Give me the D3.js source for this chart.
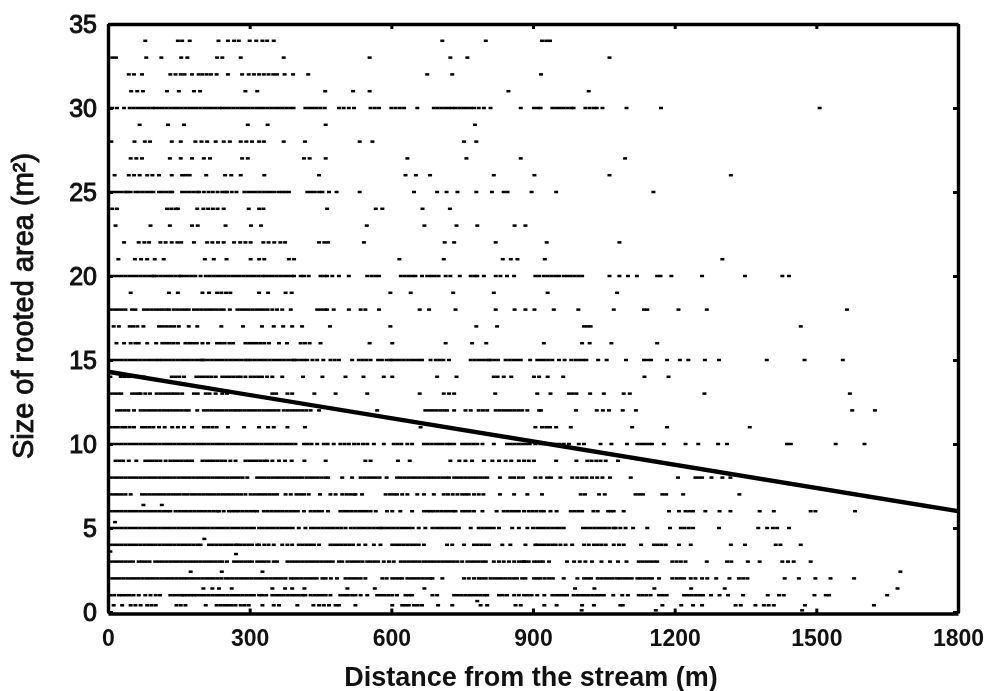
<!DOCTYPE html>
<html>
<head>
<meta charset="utf-8">
<script src="https://d3js.org/d3.v7.min.js"></script>
<style>
  html, body { margin: 0; background: #fff; }
  svg { display: block; filter: blur(0.35px); }
  text { font-family: "Liberation Sans", Arial, sans-serif; fill: #111; }
</style>
</head>
<body>
<svg id="chart" width="985" height="691"></svg>
<script>
// tick labels
var xTicks = [0, 300, 600, 900, 1200, 1500, 1800];
var yTicks = [0, 5, 10, 15, 20, 25, 30, 35];

// fitted line, distance -> rooted area
var lineX = [0, 1800];
var lineY = [14.3, 6.0];

// points, one list per rooted area value (x = metres)
var r34 = [79,148,157,173,234,254,267,277,300,314,327,337,351,708,800,919,928,936];
var r33 = [9,17,81,113,155,168,231,242,281,372,554,725,761,1062];
var r32 = [44,55,72,132,143,154,162,178,192,200,209,218,230,254,284,298,309,320,330,340,350,358,374,392,424,676,729,917];
var r31 = [49,62,74,125,150,182,195,291,316,460,519,554,848,1018];
var r30 = [9,19,34,46,54,62,70,78,86,94,100,108,116,124,132,140,148,156,164,172,180,188,196,204,212,220,228,236,242,250,258,266,274,282,290,298,306,314,322,330,338,346,354,362,370,378,386,393,418,426,434,442,450,459,489,499,510,521,556,565,574,600,609,618,627,655,690,698,706,714,722,729,736,744,752,760,768,775,785,796,810,874,902,910,916,941,949,957,965,973,981,986,1011,1020,1029,1035,1047,1098,1171,1507];
var r29 = [67,127,161,296,338,461,777];
var r28 = [7,56,78,89,135,154,185,198,210,228,245,258,281,293,305,320,330,372,417,533,560,754,780];
var r27 = [48,60,72,131,154,178,203,216,284,296,415,427,461,634,759,874,1095];
var r26 = [14,44,55,67,83,94,108,135,157,165,173,208,248,261,281,331,447,630,652,682,817,903,1062,1319];
var r25 = [5,13,21,29,37,41,48,58,65,73,81,89,96,108,116,124,132,136,157,165,173,181,189,193,203,213,222,232,242,249,252,262,272,289,297,305,313,321,329,337,345,353,362,369,376,383,422,430,438,447,454,468,484,533,648,697,717,740,780,813,838,846,897,949,1155];
var r24 = [9,19,125,134,143,148,189,202,212,222,232,245,298,320,329,464,567,581,666,724];
var r23 = [16,90,131,178,190,249,303,324,548,670,738,782,861,884];
var r22 = [34,65,77,87,111,122,135,147,155,182,210,221,233,245,267,280,291,302,329,340,352,365,375,447,458,466,542,713,733,821,929,1083];
var r21 = [22,57,70,83,99,118,205,224,251,302,320,331,383,394,617,711,836,853,867,925,1301];
var r20 = [5,13,21,29,37,45,53,61,69,77,85,93,97,103,111,119,127,135,143,151,154,161,169,177,185,196,207,215,223,231,239,247,255,263,271,279,287,295,303,311,319,327,333,341,349,357,365,373,381,389,394,408,415,425,450,458,464,475,489,510,549,558,566,574,620,628,636,644,651,665,676,684,692,700,715,725,745,768,776,782,796,821,831,845,860,905,913,923,931,939,947,955,965,972,980,988,996,1004,1062,1083,1101,1120,1163,1170,1193,1258,1349,1428,1442];
var r19 = [48,129,148,200,214,231,240,250,259,320,339,376,389,598,641,731,817,931,1078];
var r18 = [5,13,21,29,37,51,58,76,84,92,100,108,116,124,129,139,147,155,163,171,182,190,198,206,214,222,230,238,245,258,274,282,290,298,306,314,322,330,338,348,358,369,387,443,451,459,464,478,510,535,545,574,660,680,736,821,861,884,903,944,996,1071,1135,1142,1208,1268,1565];
var r17 = [12,23,46,53,62,75,108,116,124,132,140,150,171,189,240,286,326,351,371,390,411,470,598,780,824,1008,1015,1022,1467];
var r16 = [18,34,48,58,65,83,102,115,123,131,139,148,164,172,180,188,200,212,231,239,247,257,265,291,299,307,315,323,331,341,362,379,408,417,427,450,554,602,715,771,801,923,1004,1020,1066,1163];
var r15 = [5,13,21,29,37,45,53,61,69,77,85,93,101,108,115,123,131,139,147,155,163,171,179,187,195,200,203,211,219,227,235,243,251,259,267,275,283,291,296,302,310,318,326,334,342,350,358,366,374,382,390,394,399,407,415,422,433,443,456,471,480,489,517,531,539,547,556,572,580,590,598,602,610,618,626,634,642,650,658,665,683,694,702,710,722,768,776,784,792,800,807,810,818,826,842,850,858,866,874,894,909,917,925,933,941,955,967,981,990,998,1006,1013,1038,1056,1097,1135,1143,1150,1184,1211,1229,1264,1294,1395,1475,1556];
var r14 = [5,27,35,43,51,59,67,76,135,143,151,161,187,195,203,211,219,228,242,250,258,266,274,281,291,302,310,318,326,337,348,369,413,454,503,541,584,602,697,738,817,825,838,854,902,913,931,964,1136,1187];
var r13 = [5,13,21,28,51,58,65,69,79,89,103,111,119,127,135,140,148,157,182,190,207,215,228,242,252,348,356,380,390,437,482,549,660,711,722,733,820,909,937,976,984,992,1021,1050,1092,1105,1263,1571];
var r12 = [19,27,35,43,55,69,77,85,93,101,109,117,125,132,140,148,156,164,171,189,203,211,219,227,235,243,251,259,267,274,281,289,297,305,313,321,329,337,345,353,361,372,380,388,396,404,412,420,429,447,500,570,672,680,688,696,704,712,718,733,757,768,785,794,803,821,829,837,845,853,861,869,877,888,913,917,991,1035,1048,1061,1090,1118,1576,1624];
var r11 = [5,13,21,30,37,46,55,72,80,88,96,108,120,136,148,161,178,203,212,221,230,254,288,320,339,351,380,417,662,905,919,928,936,949,980,1110,1184,1359];
var r10 = [5,13,21,29,37,45,53,61,69,77,85,93,101,109,117,125,133,141,149,157,165,173,181,189,197,205,213,221,229,237,245,253,261,269,277,285,293,301,309,317,325,333,341,349,357,365,373,381,389,397,415,423,431,443,457,465,478,492,501,510,521,530,540,549,563,584,605,613,621,634,644,669,677,685,693,701,709,718,725,733,750,758,766,774,782,793,817,845,853,861,869,877,885,893,905,916,924,932,940,948,956,965,976,997,1008,1043,1066,1099,1121,1129,1137,1145,1152,1177,1223,1250,1292,1311,1438,1446,1541,1602];
var r9 = [16,24,32,44,60,79,87,95,103,111,122,132,140,148,156,164,171,178,200,208,216,224,232,240,248,259,270,291,299,307,315,323,331,337,348,362,375,389,416,461,545,556,614,639,725,744,757,771,796,814,828,842,854,870,881,891,902,949,992,1015,1024,1034,1043,1054,1080];
var r8 = [5,13,21,29,37,45,53,61,69,77,85,93,101,109,117,125,133,141,149,157,165,173,181,189,197,205,213,221,229,237,245,253,261,269,277,285,295,316,324,332,340,348,356,364,372,380,388,396,404,411,420,428,436,444,452,460,466,496,517,535,543,551,559,567,575,590,612,620,628,636,644,652,660,668,676,684,692,700,708,716,722,733,741,749,757,765,773,781,789,797,803,830,852,860,870,879,905,916,930,938,958,983,994,1004,1013,1025,1036,1047,1063,1107,1207,1244,1251,1258,1278,1301,1318];
var r7 = [5,13,21,29,37,48,72,80,88,96,104,112,120,128,136,144,152,161,169,178,186,194,202,210,218,226,234,242,250,258,266,274,282,291,302,310,318,326,334,342,350,358,376,387,399,407,415,425,449,471,482,496,505,513,521,524,538,588,597,605,612,623,634,655,669,690,711,720,730,740,750,757,764,775,785,795,830,860,888,919,1001,1010,1040,1052,1117,1125,1133,1174,1182,1218,1337];
var r6 = [5,13,21,29,37,45,53,61,69,77,85,93,101,109,117,125,132,143,151,159,167,175,183,191,199,207,215,223,231,235,245,256,263,270,277,285,293,301,309,316,330,338,346,354,362,370,378,386,394,402,415,429,437,445,453,466,492,500,508,516,524,532,540,548,556,567,591,602,619,644,669,677,683,690,698,706,714,722,730,736,750,758,766,775,793,823,838,846,854,862,870,881,891,899,907,916,923,937,950,980,988,996,1004,1028,1037,1059,1065,1071,1092,1188,1209,1223,1231,1239,1265,1295,1318,1380,1410,1488,1498,1582];
var r5 = [5,13,21,29,37,45,53,61,69,77,85,93,101,109,117,125,133,141,149,157,165,173,181,189,197,205,213,221,229,237,245,253,261,269,277,285,293,301,309,320,327,335,343,351,359,367,375,383,391,404,418,430,438,446,454,462,470,478,486,494,503,514,522,530,538,546,554,562,570,577,581,589,597,605,613,621,629,637,645,658,672,687,695,703,711,719,727,735,743,768,785,793,801,809,817,828,856,870,888,900,909,917,925,933,941,949,957,965,1006,1014,1022,1030,1038,1046,1054,1062,1071,1075,1085,1096,1112,1142,1190,1213,1221,1230,1239,1294,1377,1396,1408,1417,1442];
var r4 = [5,13,21,29,37,45,53,61,69,77,85,93,101,109,117,125,133,141,149,157,165,173,181,189,196,214,222,230,238,246,254,262,270,274,281,289,297,305,316,320,331,340,351,369,380,390,404,412,420,428,436,447,471,479,487,495,503,511,519,531,545,563,577,602,610,618,626,634,642,650,658,669,718,729,754,775,783,791,799,807,835,852,884,905,909,917,925,933,941,948,958,969,983,1008,1018,1029,1037,1045,1054,1071,1082,1092,1129,1156,1164,1172,1181,1209,1234,1319,1349,1414,1424,1467];
var r3 = [5,13,21,29,37,45,53,65,72,80,88,100,108,116,124,132,140,148,156,164,172,180,188,196,204,212,220,228,236,242,252,267,275,283,291,299,305,316,324,332,340,351,358,380,388,396,404,412,420,428,436,444,452,460,468,476,489,496,507,515,523,531,539,549,556,564,572,584,595,605,620,628,636,644,652,660,669,676,684,692,700,708,716,724,732,740,750,761,769,777,785,793,800,817,828,838,849,860,870,881,884,902,916,877,891,909,921,934,972,987,999,1011,1025,1045,1063,1080,1098,1124,1132,1140,1148,1156,1163,1195,1204,1213,1223,1268,1311,1320,1355,1380,1428,1440,1452,1488];
var r2 = [9,17,25,33,41,49,57,65,73,81,89,97,105,113,121,129,137,145,153,161,168,176,184,192,200,208,216,224,232,240,249,256,264,272,280,288,296,304,312,320,328,336,344,352,360,368,376,387,394,402,410,418,426,434,442,454,461,472,485,503,511,519,527,535,545,581,590,602,609,616,623,634,642,650,658,666,674,682,687,708,754,764,775,785,792,800,810,818,826,834,842,850,858,866,877,884,902,909,916,942,934,925,965,994,1008,1016,1023,1037,1045,1053,1061,1069,1078,1085,1093,1101,1109,1121,1128,1136,1144,1152,1167,1195,1204,1212,1220,1234,1244,1258,1269,1288,1316,1336,1345,1354,1433,1463,1498,1530,1580];
var r1 = [5,13,23,30,38,46,54,65,79,90,101,110,132,140,148,156,161,168,175,182,189,197,205,213,221,229,237,245,253,261,269,277,285,293,301,309,320,327,335,348,356,364,372,380,388,396,404,412,418,429,437,445,453,461,471,492,500,508,517,524,535,549,570,578,586,594,602,612,630,637,644,687,697,733,741,749,757,765,773,781,789,797,803,828,836,845,860,870,881,889,897,909,924,941,949,957,965,972,986,994,1002,1010,1018,1026,1034,1042,1050,1070,1089,1101,1124,1132,1140,1149,1167,1175,1183,1220,1228,1236,1244,1252,1260,1277,1295,1313,1345,1397,1421,1431,1496,1520,1527,1650];
// stray points between the whole-number rows
var rHalf = [12,30,48,58,69,83,92,101,145,154,164,207,230,238,246,254,262,270,281,289,298,327,351,362,401,435,447,457,468,482,489,524,602,623,630,637,648,656,665,699,729,789,803,863,874,924,950,1004,1029,1085,1090,1174,1214,1239,1258,1329,1340,1371,1389,1399,1410,1476,1622];
var r14low = [202,221,235,262,348,375,390,416,507,565,670,989,1030,1157,1235,1306,1672];
var r24low = [175,241,327,1678];
var r36low = [271];
var r39low = [5];
var r44low = [204];
var r54low = [15];
var r64low = [75,114];
var r07low = [782];
var r0 = [1003,1160,1470];

var rows = [
  [34, r34], [33, r33], [32, r32], [31, r31], [30, r30], [29, r29], [28, r28], [27, r27], [26, r26],
  [25, r25], [24, r24], [23, r23], [22, r22], [21, r21], [20, r20], [19, r19], [18, r18], [17, r17],
  [16, r16], [15, r15], [14, r14], [13, r13], [12, r12], [11, r11], [10, r10], [9, r9], [8, r8],
  [7, r7], [6, r6], [5, r5], [4, r4], [3, r3], [2, r2], [1, r1], [0.4, rHalf], [1.4, r14low],
  [2.4, r24low], [3.45, r36low], [3.6, r39low], [4.35, r44low], [5.35, r54low], [6.37, r64low],
  [0.65, r07low], [0.1, r0]
];

var points = [];
rows.forEach(function(row) {
  row[1].forEach(function(x) { points.push({x: x, y: row[0]}); });
});

var svg = d3.select("#chart");
var margin = {left: 108, right: 958, top: 24, bottom: 612};

var x = d3.scaleLinear().domain([0, 1800]).range([margin.left, margin.right]);
var y = d3.scaleLinear().domain([0, 35]).range([margin.bottom, margin.top]);

// points
var dotW = 4, dotH = 2.5;
svg.append("g")
  .selectAll("rect")
  .data(points)
  .enter().append("rect")
    .attr("x", d => x(d.x) - dotW / 2)
    .attr("y", d => y(d.y) - dotH / 2)
    .attr("width", dotW)
    .attr("height", dotH)
    .attr("fill", "#000");

// fitted line
svg.append("path")
  .datum(d3.zip(lineX, lineY))
  .attr("fill", "none")
  .attr("stroke", "#000")
  .attr("stroke-width", 4.4)
  .attr("d", d3.line().x(d => x(d[0])).y(d => y(d[1])));

// axes, ticks point inwards on all four sides
function styleAxis(g) {
  g.select(".domain").attr("stroke", "#000").attr("stroke-width", 3.4);
  g.selectAll(".tick line").attr("stroke", "#000").attr("stroke-width", 3);
  g.selectAll("text").attr("font-family", null).attr("fill", "#111");
}

svg.append("g")
  .attr("transform", `translate(0,${margin.bottom + 1.5})`)
  .call(d3.axisBottom(x).tickValues(xTicks).tickSizeInner(-5).tickSizeOuter(0).tickPadding(16).tickFormat(d3.format("d")))
  .call(styleAxis)
  .selectAll("text").attr("font-size", 23).attr("font-weight", "bold");

svg.append("g")
  .attr("transform", `translate(0,${margin.top})`)
  .call(d3.axisTop(x).tickValues(xTicks).tickSizeInner(-5).tickSizeOuter(0).tickFormat(""))
  .call(styleAxis);

svg.append("g")
  .attr("transform", `translate(${margin.left},0)`)
  .call(d3.axisLeft(y).tickValues(yTicks).tickSizeInner(-5).tickSizeOuter(0).tickPadding(11))
  .call(styleAxis)
  .selectAll("text").attr("font-size", 25).attr("stroke", "#111").attr("stroke-width", 1);

svg.append("g")
  .attr("transform", `translate(${margin.right},0)`)
  .call(d3.axisRight(y).tickValues(yTicks).tickSizeInner(-5).tickSizeOuter(0).tickFormat(""))
  .call(styleAxis);

// axis titles
svg.append("text")
  .attr("x", 531)
  .attr("y", 686)
  .attr("text-anchor", "middle")
  .attr("font-size", 27)
  .attr("font-weight", "bold")
  .text("Distance from the stream (m)");

svg.append("text")
  .attr("transform", "translate(33,306) rotate(-90)")
  .attr("text-anchor", "middle")
  .attr("font-size", 29)
  .attr("stroke", "#111")
  .attr("stroke-width", 0.9)
  .text("Size of rooted area (m²)");
</script>
</body>
</html>
